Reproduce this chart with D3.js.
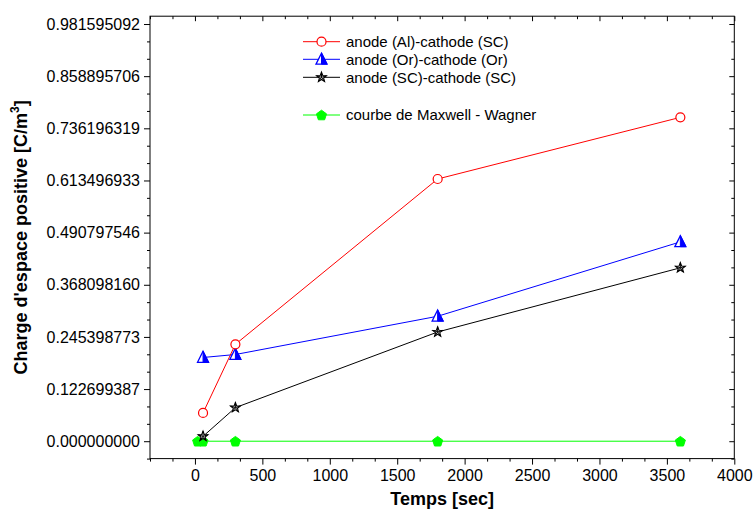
<!DOCTYPE html>
<html><head><meta charset="utf-8">
<script src="https://cdn.jsdelivr.net/npm/d3@7/dist/d3.min.js"></script>
<style>body{margin:0;background:#fff}svg{display:block;font-family:"Liberation Sans",Arial,sans-serif}</style>
</head><body><svg id="c" width="755" height="512"></svg>
<script>
const xAl = [60, 300, 1800, 3600];
const yAl = [0.0666, 0.228, 0.617, 0.762];
const xOr = [60, 300, 1800, 3600];
const yOr = [0.197, 0.204, 0.294, 0.469];
const xSC = [60, 300, 1800, 3600];
const ySC = [0.0115, 0.079, 0.257, 0.408];
const xMW = [20, 60, 300, 1800, 3600];
const yMW = [0, 0, 0, 0, 0];
const xTicks = [0, 500, 1000, 1500, 2000, 2500, 3000, 3500, 4000];
const yTicks = [0, 0.122699387, 0.245398773, 0.368098160, 0.490797546, 0.613496933, 0.736196319, 0.858895706, 0.981595092];
const yTickLabels = ["0.000000000","0.122699387","0.245398773","0.368098160","0.490797546","0.613496933","0.736196319","0.858895706","0.981595092"];
const legendLabels = ["anode (Al)-cathode (SC)", "anode (Or)-cathode (Or)", "anode (SC)-cathode (SC)", "courbe de Maxwell - Wagner"];
const xTitle = "Temps [sec]";
const yTitle = "Charge d'espace positive [C/m";

const svg = d3.select("#c");
const L = 150, R = 734.3, T = 16.2, B = 458.6;
const x = d3.scaleLinear().domain([-333.333, 4000]).range([L, R]);
const y = d3.scaleLinear().domain([-0.0409, 1.0]).range([B, T]);

const xMinor = d3.range(-2, 25).map(i => i * 500 / 3).filter(v => !xTicks.some(t => Math.abs(t - v) < 1));
const yStep = 0.122699387 / 3;
const yMinor = d3.range(-1, 25).map(i => i * yStep).filter(v => v <= 1.0 && !yTicks.some(t => Math.abs(t - v) < 1e-6));

// frame
svg.append("rect").attr("x", L).attr("y", T).attr("width", R - L).attr("height", B - T)
  .attr("fill", "none").attr("stroke", "#000").attr("stroke-width", 1);

// bottom axis
const gx = svg.append("g").attr("transform", `translate(0,${B})`)
  .call(d3.axisBottom(x).tickValues(xTicks).tickSize(6).tickPadding(5).tickFormat(d3.format("d")));
gx.select(".domain").remove();
gx.selectAll("text").attr("font-size", 16).attr("font-family", "Liberation Sans, Arial");
svg.append("g").attr("transform", `translate(0,${B})`)
  .call(d3.axisBottom(x).tickValues(xMinor).tickSize(3).tickFormat(""))
  .select(".domain").remove();
// top axis (inward)
svg.append("g").attr("transform", `translate(0,${T})`)
  .call(d3.axisBottom(x).tickValues(xTicks).tickSize(5).tickFormat("")).select(".domain").remove();
svg.append("g").attr("transform", `translate(0,${T})`)
  .call(d3.axisBottom(x).tickValues(xMinor).tickSize(3).tickFormat("")).select(".domain").remove();

// left axis
const gy = svg.append("g").attr("transform", `translate(${L},0)`)
  .call(d3.axisLeft(y).tickValues(yTicks).tickSize(6).tickPadding(4).tickFormat((d, i) => yTickLabels[i]));
gy.select(".domain").remove();
gy.selectAll("text").attr("font-size", 16).attr("font-family", "Liberation Sans, Arial");
svg.append("g").attr("transform", `translate(${L},0)`)
  .call(d3.axisLeft(y).tickValues(yMinor).tickSize(3).tickFormat("")).select(".domain").remove();
// right axis (inward)
svg.append("g").attr("transform", `translate(${R},0)`)
  .call(d3.axisLeft(y).tickValues(yTicks).tickSize(5).tickFormat("")).select(".domain").remove();
svg.append("g").attr("transform", `translate(${R},0)`)
  .call(d3.axisLeft(y).tickValues(yMinor).tickSize(3).tickFormat("")).select(".domain").remove();

// titles
svg.append("text").attr("x", (L + R) / 2).attr("y", 505).attr("text-anchor", "middle")
  .attr("font-size", 18).attr("font-weight", "bold").text(xTitle);
const yt = svg.append("text").attr("transform", `translate(27,${(T + B) / 2}) rotate(-90)`)
  .attr("text-anchor", "middle").attr("font-size", 18).attr("font-weight", "bold");
yt.append("tspan").text(yTitle);
yt.append("tspan").attr("font-size", 12).attr("dy", -8).text("3");
yt.append("tspan").attr("dy", 8).text("]");

// marker drawers
function circleM(g, cx, cy) {
  g.append("circle").attr("cx", cx).attr("cy", cy).attr("r", 4.5).attr("fill", "#fff").attr("stroke", "#ff0000").attr("stroke-width", 1.2);
}
function triM(g, cx, cy) {
  const h = 11, w = 11;
  const ax = cx, ay = cy - 6.2, lx = cx - w / 2, by = cy + 4.8, rx = cx + w / 2;
  g.append("path").attr("d", `M${ax},${ay}L${rx},${by}L${lx},${by}Z`).attr("fill", "#fff").attr("stroke", "#0000ff").attr("stroke-width", 1.3);
  g.append("path").attr("d", `M${ax},${ay}L${rx},${by}L${ax},${by}Z`).attr("fill", "#0000ff").attr("stroke", "#0000ff").attr("stroke-width", 1);
}
function starM(g, cx, cy) {
  const ro = 5.2, ri = 2.2, pts = [];
  for (let i = 0; i < 10; i++) {
    const a = -Math.PI / 2 + i * Math.PI / 5, r = i % 2 ? ri : ro;
    pts.push([cx + r * Math.cos(a), cy + r * Math.sin(a)]);
  }
  g.append("path").attr("d", "M" + pts.map(p => p.join(",")).join("L") + "Z").attr("fill", "#fff").attr("stroke", "#000").attr("stroke-width", 1.1);
  for (let i = 0; i < 10; i += 2) {
    g.append("line").attr("x1", cx).attr("y1", cy).attr("x2", pts[i][0]).attr("y2", pts[i][1]).attr("stroke", "#000").attr("stroke-width", 1);
  }
}
function pentM(g, cx, cy) {
  const r = 5.3, pts = [];
  for (let i = 0; i < 5; i++) {
    const a = -Math.PI / 2 + i * 2 * Math.PI / 5;
    pts.push([cx + r * Math.cos(a), cy + 0.5 + r * Math.sin(a)]);
  }
  g.append("path").attr("d", "M" + pts.map(p => p.join(",")).join("L") + "Z").attr("fill", "#00ff00").attr("stroke", "#00ff00").attr("stroke-width", 1);
}

const series = [
  { xs: xMW, ys: yMW, color: "#00ff00", m: pentM },
  { xs: xSC, ys: ySC, color: "#000000", m: starM },
  { xs: xOr, ys: yOr, color: "#0000ff", m: triM },
  { xs: xAl, ys: yAl, color: "#ff0000", m: circleM }
];
const line = d3.line().x(d => x(d[0])).y(d => y(d[1]));
series.forEach(s => {
  const data = s.xs.map((v, i) => [v, s.ys[i]]);
  svg.append("path").datum(data).attr("d", line).attr("fill", "none").attr("stroke", s.color).attr("stroke-width", 1);
});
series.forEach(s => {
  const g = svg.append("g");
  s.xs.forEach((v, i) => s.m(g, x(v), y(s.ys[i])));
});

// legend
const legY = [41.7, 59.3, 77.3, 115];
const legC = ["#ff0000", "#0000ff", "#000000", "#00ff00"];
const legM = [circleM, triM, starM, pentM];
legendLabels.forEach((t, i) => {
  const g = svg.append("g");
  g.append("line").attr("x1", 303).attr("x2", 340).attr("y1", legY[i]).attr("y2", legY[i]).attr("stroke", legC[i]).attr("stroke-width", 1);
  legM[i](g, 321.5, legY[i]);
  g.append("text").attr("x", 346).attr("y", legY[i] + 5.3).attr("font-size", 15).text(t);
});
</script></body></html>
